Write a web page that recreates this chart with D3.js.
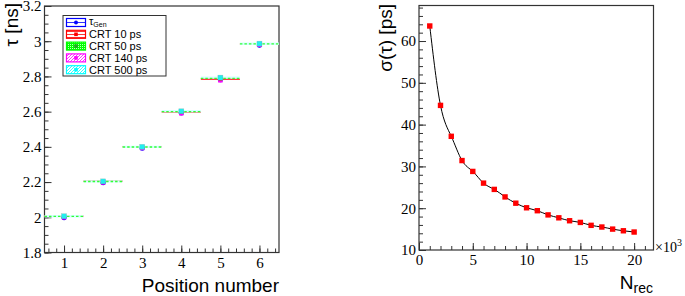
<!DOCTYPE html>
<html>
<head>
<meta charset="utf-8">
<script src="https://cdn.jsdelivr.net/npm/d3@7"></script>
<style>
  body { margin: 0; background: #fff; }
  svg { display: block; }
  .serif { font-family: "Liberation Serif", "Times New Roman", Times, "DejaVu Serif", serif; }
  .sans { font-family: "Liberation Sans", Arial, Helvetica, sans-serif; }
</style>
</head>
<body>
<div id="chart"></div>
<script>
// Left panel: tau per position for each CRT setting
const positions = [1, 2, 3, 4, 5, 6];
const tauGen = [1.998, 2.196, 2.392, 2.592, 2.781, 2.977];
const crt10 = [2.006, 2.204, 2.400, 2.598, 2.786, 2.984];
const crt50 = [2.005, 2.203, 2.399, 2.600, 2.789, 2.985];
const crt140 = [2.000, 2.198, 2.394, 2.591, 2.778, 2.980];
const crt500 = [2.006, 2.204, 2.400, 2.602, 2.793, 2.986];
const legendLabels = ["Gen", "CRT 10 ps", "CRT 50 ps", "CRT 140 ps", "CRT 500 ps"];

// Right panel: sigma(tau) vs number of reconstructed events (x10^3)
const nRec = [1, 2, 3, 4, 5, 6, 7, 8, 9, 10, 11, 12, 13, 14, 15, 16, 17, 18, 19, 20];
const sigmaTau = [63.6, 44.6, 37.2, 31.4, 28.8, 26.0, 24.5, 22.7, 21.2, 20.1,
                  19.4, 18.4, 17.7, 17.0, 16.6, 15.9, 15.5, 15.0, 14.6, 14.3];

const W = 685, H = 296;
const frameColor = "#333";

const svg = d3.select("#chart").append("svg")
    .attr("width", W).attr("height", H);

const defs = svg.append("defs");
function hatch(id, color, d, size) {
    const p = defs.append("pattern").attr("id", id)
        .attr("patternUnits", "userSpaceOnUse")
        .attr("width", size).attr("height", size);
    p.append("rect").attr("width", size).attr("height", size).attr("fill", "#fff");
    p.append("path").attr("d", d).attr("stroke", color).attr("stroke-width", 0.8).attr("fill", "none");
}
hatch("pRed", "#f00", "M0,1.5H4", 3);
hatch("pMag", "#f0f", "M0,3L3,0M-1,1L1,-1M2,4L4,2", 3);
hatch("pCyan", "#0ff", "M0,3L3,0M-1,1L1,-1M2,4L4,2", 3);
const pg = defs.append("pattern").attr("id", "pGreen")
    .attr("patternUnits", "userSpaceOnUse").attr("width", 2).attr("height", 2);
pg.append("rect").attr("width", 2).attr("height", 2).attr("fill", "#0f0");
pg.append("rect").attr("width", 1).attr("height", 1).attr("fill", "#bfb");

function drawAxes(g, x, y, xMajor, xMinor, yMajor, yMinor, xFmt, yFmt) {
    const [x0, x1] = x.range();
    const [y0, y1] = y.range();
    const axes = g.append("g").attr("font-family", null);
    axes.append("g").attr("transform", `translate(0,${y0})`)
        .call(d3.axisBottom(x).tickValues(xMinor).tickSize(-4).tickFormat(""));
    axes.append("g").attr("transform", `translate(0,${y0})`)
        .call(d3.axisBottom(x).tickValues(xMajor).tickSize(-7).tickPadding(15).tickFormat(xFmt));
    axes.append("g").attr("transform", `translate(${x0},0)`)
        .call(d3.axisLeft(y).tickValues(yMinor).tickSize(-4).tickFormat(""));
    axes.append("g").attr("transform", `translate(${x0},0)`)
        .call(d3.axisLeft(y).tickValues(yMajor).tickSize(-7).tickPadding(3).tickFormat(yFmt));
    axes.selectAll("g").attr("font-family", null).attr("font-size", null);
    axes.selectAll(".domain").remove();
    axes.selectAll(".tick line").attr("stroke", frameColor);
    axes.selectAll(".tick text").attr("class", "serif")
        .style("font-size", "15px").attr("fill", "#000");
    axes.selectAll(".tick text").filter(function () { return this.getAttribute("dy") === "0.71em"; })
        .attr("dy", "0");
    g.append("rect").attr("x", x0).attr("y", y1).attr("width", x1 - x0).attr("height", y0 - y1)
        .attr("fill", "none").attr("stroke", frameColor).attr("stroke-width", 1.2);
}

// ---------- left panel ----------
const xL = d3.scaleLinear().domain([0.5, 6.5]).range([44.5, 279]);
const yL = d3.scaleLinear().domain([1.8, 3.2]).range([252.5, 6]);
const gL = svg.append("g");

drawAxes(gL, xL, yL,
    positions, d3.range(0.6, 6.45, 0.2),
    [1.8, 2, 2.2, 2.4, 2.6, 2.8, 3, 3.2], d3.range(1.8, 3.21, 0.05),
    d3.format("d"), d => d3.format("~g")(d));

// horizontal error bars (x width +-0.5)
function hbars(vals, color, width, dash) {
    gL.append("g").selectAll("line").data(vals).join("line")
        .attr("x1", (d, i) => xL(positions[i] - 0.5))
        .attr("x2", (d, i) => xL(positions[i] + 0.5))
        .attr("y1", d => yL(d)).attr("y2", d => yL(d))
        .attr("stroke", color).attr("stroke-width", width)
        .attr("stroke-dasharray", dash || null);
}
hbars(crt10, "#f00", 1.5);
hbars(crt500, "#d4ffff", 2.4);
hbars(crt50, "#3f3", 1.4, "2.5,2");

function markers(vals, color, size, shape) {
    const sel = gL.append("g").selectAll(shape).data(vals).join(shape).attr("fill", color);
    if (shape === "circle") {
        sel.attr("cx", (d, i) => xL(positions[i])).attr("cy", d => yL(d)).attr("r", size);
    } else {
        sel.attr("x", (d, i) => xL(positions[i]) - size / 2).attr("y", d => yL(d) - size / 2)
            .attr("width", size).attr("height", size);
    }
}
markers(tauGen, "#00f", 2.5, "circle");
markers(crt140, "#f0f", 4.5, "rect");
markers(crt10, "#f00", 3.5, "rect");
markers(crt50, "#2c2", 3.5, "rect");
markers(crt500, "#2ee", 5, "rect");
gL.append("g").selectAll("rect").data(crt500).join("rect")
    .attr("x", (d, i) => xL(positions[i]) - 2.5).attr("y", d => yL(d) - 2.5)
    .attr("width", 5).attr("height", 5)
    .attr("fill", "none").attr("stroke", "#799").attr("stroke-width", 0.5).attr("opacity", 0.5);

// legend
const leg = gL.append("g");
leg.append("rect").attr("x", 63).attr("y", 15.5).attr("width", 103).attr("height", 60.5)
    .attr("fill", "#fff").attr("stroke", frameColor).attr("stroke-width", 1);
const legColors = ["#00f", "#f00", "#0f0", "#f0f", "#0ff"];
const legFills = ["#fff", "url(#pRed)", "url(#pGreen)", "url(#pMag)", "url(#pCyan)"];
legendLabels.forEach((lab, i) => {
    const cy = 22.5 + i * 11.8;
    leg.append("rect").attr("x", 66.5).attr("y", cy - 4).attr("width", 19).attr("height", 8)
        .attr("fill", legFills[i]).attr("stroke", legColors[i]).attr("stroke-width", 1.2);
    if (i === 0) {
        leg.append("line").attr("x1", 67).attr("x2", 85).attr("y1", cy).attr("y2", cy)
            .attr("stroke", "#00f").attr("stroke-width", 0.8);
        leg.append("circle").attr("cx", 76).attr("cy", cy).attr("r", 2).attr("fill", "#00f");
        const t = leg.append("text").attr("class", "sans").attr("x", 89).attr("y", cy + 2)
            .style("font-size", "11px");
        t.append("tspan").text("τ");
        t.append("tspan").attr("dy", 2.5).style("font-size", "7px").text(lab);
    } else {
        leg.append("rect").attr("x", 74.2).attr("y", cy - 1.8).attr("width", 3.6).attr("height", 3.6)
            .attr("fill", legColors[i] === "#0f0" ? "#2a2" : legColors[i]);
        leg.append("text").attr("class", "sans").attr("x", 89).attr("y", cy + 4)
            .style("font-size", "11px").text(lab);
    }
});

// axis titles
gL.append("text").attr("class", "sans").attr("transform", "translate(18,3) rotate(-90)")
    .attr("text-anchor", "end").style("font-size", "19px").text("τ [ns]");
gL.append("text").attr("class", "sans").attr("x", 279).attr("y", 292)
    .attr("text-anchor", "end").style("font-size", "19px").text("Position number");

// ---------- right panel ----------
const xR = d3.scaleLinear().domain([0, 21.8]).range([419, 653.5]);
const yR = d3.scaleLinear().domain([10, 68.5]).range([250, 5.5]);
const gR = svg.append("g");

drawAxes(gR, xR, yR,
    [0, 5, 10, 15, 20], d3.range(0, 21.5, 1),
    [10, 20, 30, 40, 50, 60], d3.range(10, 68.5, 2),
    d3.format("d"), d3.format("d"));

const pts = nRec.map((n, i) => [n, sigmaTau[i]]);
gR.append("path").datum(pts)
    .attr("fill", "none").attr("stroke", "#000").attr("stroke-width", 1)
    .attr("d", d3.line().curve(d3.curveNatural).x(d => xR(d[0])).y(d => yR(d[1])));
gR.append("g").selectAll("rect").data(pts).join("rect")
    .attr("x", d => xR(d[0]) - 2.7).attr("y", d => yR(d[1]) - 2.7)
    .attr("width", 5.4).attr("height", 5.4).attr("fill", "#f00");

gR.append("text").attr("class", "sans").attr("transform", "translate(392,4) rotate(-90)")
    .attr("text-anchor", "end").style("font-size", "19px").text("σ(τ) [ps]");
const nt = gR.append("text").attr("class", "sans").attr("x", 653).attr("y", 289)
    .attr("text-anchor", "end").style("font-size", "19px");
nt.append("tspan").text("N");
nt.append("tspan").attr("dy", 4).style("font-size", "14px").text("rec");
const et = gR.append("text").attr("class", "serif").attr("x", 655).attr("y", 252)
    .style("font-size", "14px");
et.append("tspan").text("×10");
et.append("tspan").attr("dy", -6).style("font-size", "10px").text("3");
</script>
</body>
</html>
